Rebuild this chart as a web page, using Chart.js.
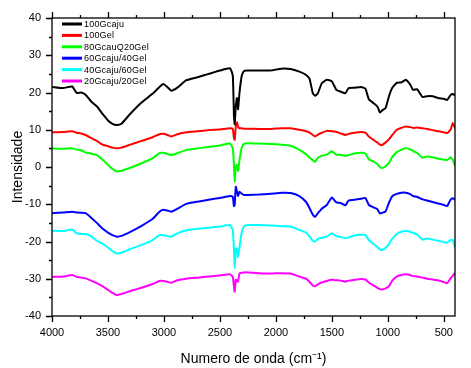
<!DOCTYPE html>
<html>
<head>
<meta charset="utf-8">
<script src="https://cdn.jsdelivr.net/npm/chart.js@4.4.1/dist/chart.umd.min.js"></script>
<style>
  html, body { margin: 0; padding: 0; background: #fff; }
</style>
</head>
<body>
<canvas id="myChart" width="471" height="368"></canvas>
<script>
// wavenumbers (cm-1), shared by every spectrum
const wavenumbers = [4000, 3900, 3820, 3780, 3740, 3700, 3650, 3600, 3550, 3500,
  3460, 3420, 3380, 3300, 3200, 3100, 3040, 3005, 2970, 2935,
  2880, 2800, 2700, 2600, 2500, 2410, 2385, 2375, 2368, 2358,
  2348, 2338, 2325, 2305, 2285, 2250, 2150, 2050, 1950, 1870,
  1790, 1730, 1700, 1670, 1650, 1625, 1590, 1545, 1500, 1460,
  1420, 1380, 1350, 1300, 1240, 1200, 1170, 1130, 1095, 1070,
  1050, 1020, 990, 960, 920, 880, 840, 800, 775, 740,
  690, 650, 600, 550, 500, 470, 440, 420, 400];

const gcaju100 = [21.5, 21.2, 21.6, 19.9, 20.0, 19.4, 17.6, 16.3, 14.3, 12.5,
  11.6, 11.3, 11.6, 14.3, 17.3, 19.7, 21.5, 22.3, 21.5, 20.5,
  21.3, 23.3, 24.1, 25.0, 25.9, 26.5, 24.5, 14.0, 11.5, 16.5,
  18.5, 15.5, 20.0, 24.5, 25.8, 25.9, 25.9, 25.9, 26.4, 26.3,
  25.6, 24.7, 23.7, 19.8, 19.1, 19.8, 22.5, 23.4, 23.0, 20.7,
  20.2, 19.8, 21.2, 21.3, 21.5, 21.0, 18.2, 17.2, 16.3, 14.6,
  15.2, 15.8, 19.0, 21.3, 22.6, 22.7, 23.4, 22.1, 20.7, 20.9,
  18.8, 19.0, 19.0, 18.5, 18.3, 18.0, 19.3, 19.6, 19.2];

const gel100 = [9.3, 9.4, 9.6, 9.2, 9.0, 8.6, 7.8, 7.0, 6.0, 5.6,
  5.2, 5.05, 5.2, 6.0, 7.0, 8.0, 8.8, 8.9, 8.6, 8.2,
  8.8, 9.3, 9.6, 9.9, 10.1, 10.4, 10.2, 7.8, 7.3, 11.0,
  12.0, 10.8, 10.4, 10.4, 10.3, 10.3, 10.2, 10.2, 10.4, 10.4,
  10.0, 9.6, 9.2, 8.6, 8.2, 8.7, 9.2, 9.7, 9.6, 9.4,
  9.0, 8.6, 8.9, 9.2, 9.4, 9.2, 8.2, 7.3, 6.6, 6.0,
  5.9, 6.6, 7.4, 8.6, 10.0, 10.5, 10.9, 10.7, 10.5, 10.6,
  10.4, 10.2, 9.9, 9.6, 9.3, 9.1, 10.0, 11.8, 10.4];

const gcaju80gel20 = [5.0, 4.9, 5.0, 4.7, 4.5, 3.9, 3.6, 3.2, 2.0, 0.6,
  -0.5, -1.2, -1.0, -0.2, 1.0, 2.4, 3.7, 3.8, 3.5, 3.2,
  3.7, 4.6, 5.0, 5.4, 5.8, 6.3, 5.0, 0.5, -3.9, 0.0,
  0.6, -1.0, 1.9, 5.2, 6.2, 6.4, 6.3, 6.2, 6.0, 5.7,
  4.6, 3.4, 2.6, 1.8, 1.4, 2.5, 3.0, 3.3, 4.2, 3.3,
  3.3, 3.0, 3.2, 3.6, 3.8, 3.6, 2.1, 1.5, 0.8, 0.0,
  -0.3, 0.2, 1.1, 2.7, 4.0, 4.6, 5.1, 4.7, 4.3, 3.8,
  2.5, 2.8, 2.6, 2.2, 2.0, 1.9, 2.6, 2.0, 0.3];

const gcaju60gel40 = [-12.4, -12.2, -12.0, -12.2, -12.3, -12.4, -13.6, -15.0, -16.5, -17.6,
  -18.3, -18.7, -18.5, -17.4, -15.8, -13.9, -12.0, -11.5, -11.7, -12.0,
  -11.2, -9.9, -9.3, -8.8, -8.3, -7.8, -8.0, -10.5, -10.2, -5.3,
  -6.5, -7.8, -6.6, -7.2, -7.5, -7.5, -7.4, -7.2, -6.9, -7.0,
  -7.8, -9.4, -11.0, -12.8, -13.4, -12.4, -11.2, -10.2, -8.2, -9.5,
  -9.7, -10.3, -9.0, -8.8, -8.5, -8.3, -10.2, -10.8, -11.3, -12.5,
  -12.3, -11.9, -9.6, -7.8, -7.2, -6.9, -6.9, -7.3, -7.8, -8.0,
  -8.7, -9.0, -9.4, -9.8, -10.2, -10.5, -8.8, -8.4, -8.8];

const gcaju40gel60 = [-17.1, -17.2, -16.8, -17.8, -18.0, -18.0, -18.6, -19.8, -20.6, -21.6,
  -22.6, -23.2, -23.0, -22.0, -20.9, -19.6, -18.3, -18.3, -18.5, -18.7,
  -17.8, -17.0, -16.6, -16.3, -16.0, -15.6, -17.0, -22.0, -27.2, -22.0,
  -21.8, -24.1, -21.5, -17.5, -16.0, -15.6, -15.6, -15.7, -15.9, -16.0,
  -16.9, -17.6, -18.6, -19.8, -20.0, -19.3, -19.0, -18.7, -17.8, -18.6,
  -18.8, -19.1, -18.9, -18.4, -18.2, -18.3, -19.6, -20.6, -21.4, -22.1,
  -22.3, -21.7, -20.7, -19.2, -18.0, -17.4, -17.2, -17.4, -17.7, -18.1,
  -19.5, -19.2, -19.5, -19.8, -20.2, -20.3, -19.6, -19.6, -21.6];

const gcaju20gel20 = [-29.5, -29.4, -29.0, -29.5, -29.7, -29.9, -30.5, -31.2, -32.0, -33.0,
  -33.8, -34.4, -34.1, -33.3, -32.4, -31.4, -30.6, -30.6, -30.8, -31.1,
  -30.4, -30.0, -29.7, -29.4, -29.1, -28.8, -29.5, -32.0, -33.5, -30.3,
  -30.5, -30.8, -28.6, -28.4, -28.3, -28.3, -28.5, -28.6, -28.5, -28.6,
  -29.4, -30.0, -30.8, -31.8, -32.0, -31.5, -31.0, -30.6, -30.3, -30.4,
  -30.5, -30.8, -30.5, -30.3, -30.1, -30.2, -31.0, -31.8, -32.4, -32.8,
  -32.9, -32.6, -32.0, -30.5, -29.4, -29.0, -28.8, -29.0, -29.3, -29.4,
  -29.7, -30.0, -30.2, -30.4, -30.9, -31.2, -29.9, -29.2, -28.4];

const seriesNames = ['100Gcaju', '100Gel', '80GcauQ20Gel', '60Gcaju/40Gel', '40Gcaju/60Gel', '20Gcaju/20Gel'];
const seriesValues = [gcaju100, gel100, gcaju80gel20, gcaju60gel40, gcaju40gel60, gcaju20gel20];
const seriesColors = ['#000000', '#ff0000', '#00ff00', '#0000ff', '#00ffff', '#ff00ff'];

const xTicks = [4000, 3500, 3000, 2500, 2000, 1500, 1000, 500];
const yTicks = [-40, -30, -20, -10, 0, 10, 20, 30, 40];

const FONT = '"Liberation Sans", Arial, sans-serif';

// axis frame, outward ticks (major + minor) and the legend inside the plot
const frameAndLegend = {
  id: 'frameAndLegend',
  afterDatasetsDraw(chart) {
    const { ctx, chartArea: a, scales: { x, y } } = chart;
    ctx.save();
    ctx.strokeStyle = '#000';
    ctx.lineWidth = 1.3;
    ctx.strokeRect(a.left, a.top, a.right - a.left, a.bottom - a.top);

    ctx.beginPath();
    for (let v = 4000; v >= 400; v -= 250) {
      const px = Math.round(x.getPixelForValue(v)) + 0.5;
      const len = v % 500 === 0 ? 6 : 3;
      ctx.moveTo(px, a.bottom); ctx.lineTo(px, a.bottom + len);
      ctx.moveTo(px, a.top); ctx.lineTo(px, a.top - len);
    }
    for (let v = -40; v <= 40; v += 5) {
      const py = Math.round(y.getPixelForValue(v)) + 0.5;
      const len = v % 10 === 0 ? 6 : 3;
      ctx.moveTo(a.left, py); ctx.lineTo(a.left - len, py);
    }
    ctx.stroke();

    // legend
    ctx.font = '9px ' + FONT;
    ctx.letterSpacing = '0.2px';
    ctx.textBaseline = 'middle';
    ctx.textAlign = 'left';
    chart.data.datasets.forEach((ds, i) => {
      const ly = a.top + 6 + i * 11.4;
      ctx.strokeStyle = ds.borderColor;
      ctx.lineWidth = 3;
      ctx.beginPath();
      ctx.moveTo(a.left + 10, ly);
      ctx.lineTo(a.left + 30, ly);
      ctx.stroke();
      ctx.fillStyle = '#000';
      ctx.fillText(ds.label, a.left + 32, ly + 0.5);
    });
    ctx.restore();
  }
};

const spectra = {
  type: 'line',
  data: {
    datasets: seriesNames.map((name, i) => ({
      label: name,
      data: wavenumbers.map((w, j) => ({ x: w, y: seriesValues[i][j] })),
      borderColor: seriesColors[i],
      backgroundColor: seriesColors[i],
      borderWidth: 2,
      pointRadius: 0,
      tension: 0.15,
      fill: false
    }))
  },
  options: {
    responsive: false,
    animation: false,
    events: [],
    layout: { padding: { top: 18, right: 16, left: 0, bottom: 0 } },
    plugins: {
      legend: { display: false },
      tooltip: { enabled: false }
    },
    scales: {
      x: {
        type: 'linear',
        reverse: true,
        min: 400,
        max: 4000,
        afterBuildTicks: s => { s.ticks = xTicks.map(v => ({ value: v })); },
        afterFit: s => { s.height = 52; },
        grid: { display: false, drawTicks: false },
        border: { display: false },
        ticks: {
          color: '#000',
          padding: 10,
          maxRotation: 0,
          autoSkip: false,
          callback: v => String(v),
          font: { family: FONT, size: 11 }
        },
        title: {
          display: true,
          text: 'Numero de onda (cm⁻¹)',
          color: '#000',
          font: { family: FONT, size: 14 },
          padding: { top: 0, bottom: 0 }
        }
      },
      y: {
        type: 'linear',
        min: -40,
        max: 40,
        afterBuildTicks: s => { s.ticks = yTicks.map(v => ({ value: v })); },
        afterFit: s => { s.width = 52; },
        grid: { display: false, drawTicks: false },
        border: { display: false },
        ticks: {
          color: '#000',
          padding: 11,
          callback: v => String(v),
          font: { family: FONT, size: 11 }
        },
        title: {
          display: true,
          text: 'Intensidade',
          color: '#000',
          font: { family: FONT, size: 14 },
          padding: { top: 10, bottom: 0 }
        }
      }
    }
  },
  plugins: [frameAndLegend]
};

new Chart(document.getElementById('myChart'), spectra);
</script>
</body>
</html>
